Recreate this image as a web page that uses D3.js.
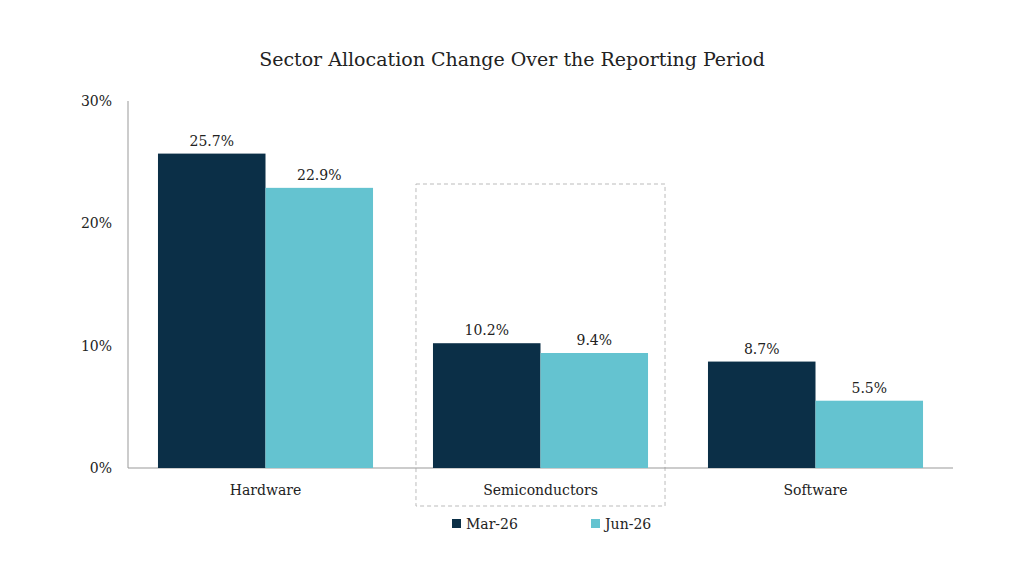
<!DOCTYPE html>
<html><head><meta charset="utf-8">
<script src="https://cdn.jsdelivr.net/npm/d3@7"></script>
<style>body{margin:0;background:#fff}text{font-family:"DejaVu Serif",serif;fill:#222}</style>
</head><body>
<svg id="c" width="1024" height="576"></svg>
<script>
var categories = ["Hardware", "Semiconductors", "Software"];
var seriesNames = ["Mar-26", "Jun-26"];
var mar26 = [25.7, 10.2, 8.7];
var jun26 = [22.9, 9.4, 5.5];
var yTicks = [0, 10, 20, 30];
var colors = ["#0b2f47", "#64c3d0"];

var svg = d3.select("#c");
var x = d3.scaleBand().domain(categories).range([128, 953]).paddingInner(0.218).paddingOuter(0.109);
var xs = d3.scaleBand().domain(seriesNames).range([0, x.bandwidth()]);
var y = d3.scaleLinear().domain([0, 30]).range([468, 101]);

svg.append("text").attr("x", 512).attr("y", 66).attr("text-anchor", "middle")
  .style("font-size", "19px").text("Sector Allocation Change Over the Reporting Period");

// highlight box
svg.append("rect").attr("x", x("Semiconductors") - 17).attr("y", 184)
  .attr("width", x.bandwidth() + 34).attr("height", 322)
  .attr("fill", "none").attr("stroke", "#bbb").attr("stroke-dasharray", "4,3");

svg.append("line").attr("x1", 128).attr("x2", 128).attr("y1", 101).attr("y2", 468).attr("stroke", "#999");
svg.append("line").attr("x1", 128).attr("x2", 953).attr("y1", 468).attr("y2", 468).attr("stroke", "#999");

svg.selectAll(".yt").data(yTicks).enter().append("text")
  .attr("x", 112).attr("y", function(d){ return y(d) + 5; }).attr("text-anchor", "end")
  .style("font-size", "14px").text(function(d){ return d + "%"; });

svg.selectAll(".xl").data(categories).enter().append("text")
  .attr("x", function(d){ return x(d) + x.bandwidth()/2; }).attr("y", 495).attr("text-anchor", "middle")
  .style("font-size", "14px").text(function(d){ return d; });

[mar26, jun26].forEach(function(vals, si){
  var g = svg.append("g");
  g.selectAll("rect").data(vals).enter().append("rect")
    .attr("x", function(d, i){ return x(categories[i]) + xs(seriesNames[si]); })
    .attr("y", function(d){ return y(d); })
    .attr("width", xs.bandwidth()).attr("height", function(d){ return 468 - y(d); })
    .attr("fill", colors[si]);
  g.selectAll("text").data(vals).enter().append("text")
    .attr("x", function(d, i){ return x(categories[i]) + xs(seriesNames[si]) + xs.bandwidth()/2; })
    .attr("y", function(d){ return y(d) - 8; }).attr("text-anchor", "middle")
    .style("font-size", "14px").text(function(d){ return d.toFixed(1) + "%"; });
});

var lx = [452, 591];
seriesNames.forEach(function(s, i){
  svg.append("rect").attr("x", lx[i]).attr("y", 519).attr("width", 9).attr("height", 9).attr("fill", colors[i]);
  svg.append("text").attr("x", lx[i] + 14).attr("y", 529).style("font-size", "14px").text(s);
});
</script>
</body></html>
